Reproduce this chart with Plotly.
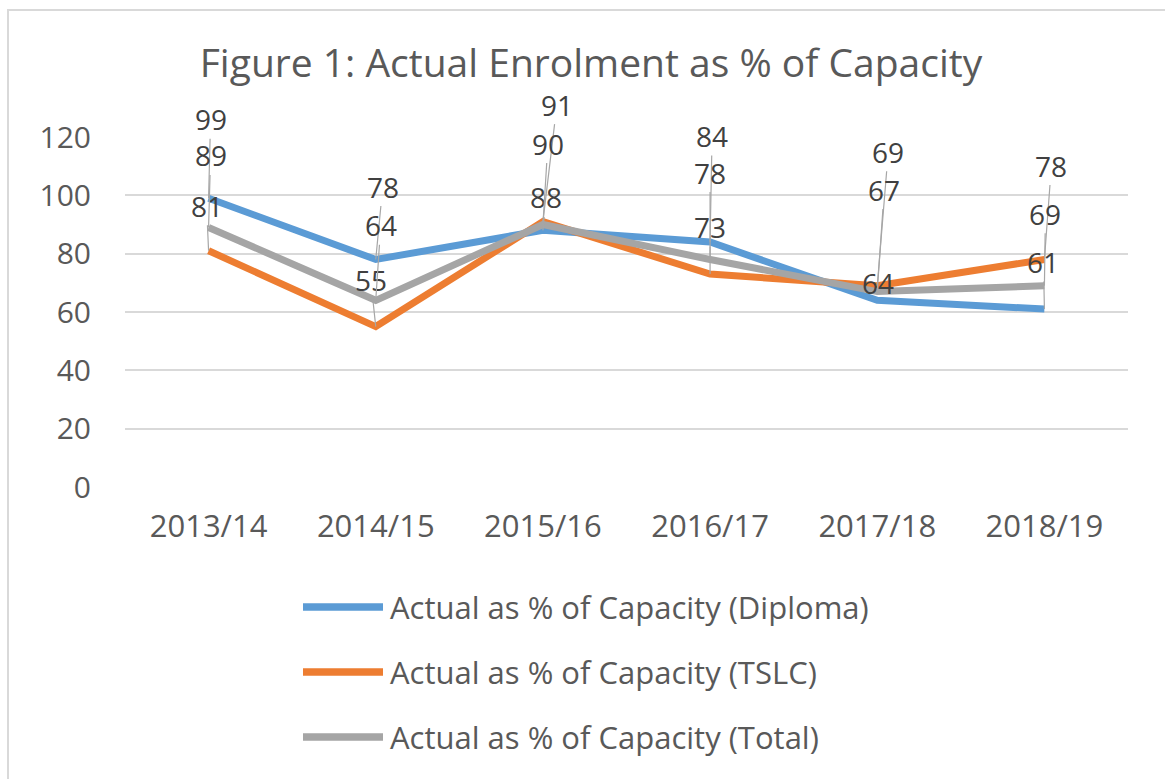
import plotly.graph_objects as go

categories = ["2013/14", "2014/15", "2015/16", "2016/17", "2017/18", "2018/19"]
diploma = [99, 78, 88, 84, 64, 61]
tslc = [81, 55, 91, 73, 69, 78]
total = [89, 64, 90, 78, 67, 69]

series_names = [
    "Actual as % of Capacity (Diploma)",
    "Actual as % of Capacity (TSLC)",
    "Actual as % of Capacity (Total)",
]
series_values = [diploma, tslc, total]
colors = ["#5b9bd5", "#ed7d31", "#a5a5a5"]

# label offsets (pixels) relative to each point, per series
label_offsets = [
    [(2, -79), (7, -73), (3, -33), (2, -106), (1, -17), (-1, -47)],
    [(-2, -45), (-5, -47), (14, -117), (0, -47), (11, -134), (7, -94)],
    [(2, -72), (5, -75), (5, -81), (0, -87), (7, -102), (1, -72)],
]

W, H = 1165, 779
L, R, T, B = 125, 37, 137, 292
PW, PH = W - L - R, H - T - B

def px_x(p):
    return (p - L) / PW

def px_y(p):
    return (H - B - p) / PH

FONT = "'Open Sans', Lato, sans-serif"
TXT = "#595959"

fig = go.Figure()
for name, vals, col in zip(series_names, series_values, colors):
    fig.add_trace(go.Scatter(
        x=categories, y=vals, name=name, mode="lines",
        line=dict(color=col, width=7),
        showlegend=False,
    ))

annotations = []
for vals, offs in zip(series_values, label_offsets):
    for c, v, (ax, ay) in zip(categories, vals, offs):
        annotations.append(dict(
            x=c, y=v, text=str(v), showarrow=True, arrowhead=0,
            arrowwidth=1.2, arrowcolor="#a6a6a6", ax=ax, ay=ay, standoff=0,
            borderpad=0,
            font=dict(family=FONT, size=28, color="#404040"),
        ))

# custom legend
shapes = []
legend_rows = [607, 672, 737]
for name, col, py in zip(series_names, colors, legend_rows):
    shapes.append(dict(
        type="line", xref="paper", yref="paper",
        x0=px_x(303), x1=px_x(383), y0=px_y(py), y1=px_y(py),
        line=dict(color=col, width=7.5),
    ))
    annotations.append(dict(
        xref="paper", yref="paper", x=px_x(388), y=px_y(py),
        xanchor="left", yanchor="middle", text=name, showarrow=False,
        font=dict(family=FONT, size=31, color=TXT),
    ))

# chart border
shapes.append(dict(
    type="rect", xref="paper", yref="paper",
    x0=px_x(8), x1=px_x(1185), y0=px_y(800), y1=px_y(10),
    line=dict(color="#d9d9d9", width=2), fillcolor="rgba(0,0,0,0)",
    layer="below",
))

fig.update_layout(
    width=W, height=H,
    margin=dict(l=L, r=R, t=T, b=B),
    paper_bgcolor="white", plot_bgcolor="white",
    title=dict(
        text="Figure 1: Actual Enrolment as % of Capacity",
        x=591 / W, xref="container", xanchor="center",
        y=1 - 63 / H, yref="container", yanchor="middle",
        font=dict(family=FONT, size=39, color=TXT),
    ),
    xaxis=dict(
        range=[-0.5, 5.5], showgrid=False, zeroline=False, showline=False,
        ticks="", tickfont=dict(family=FONT, size=31, color=TXT),
        ticklabelstandoff=18, fixedrange=True,
    ),
    yaxis=dict(
        range=[0, 120], dtick=20, showgrid=True, gridcolor="#d9d9d9",
        gridwidth=1.5, zeroline=False, showline=False, ticks="",
        tickfont=dict(family=FONT, size=30, color=TXT), ticklabelstandoff=33,
        fixedrange=True,
    ),
    annotations=annotations,
    shapes=shapes,
    showlegend=False,
)

fig.write_html(
    "out.html",
    config={"displayModeBar": False},
    post_script="document.body.style.margin='0';",
)
